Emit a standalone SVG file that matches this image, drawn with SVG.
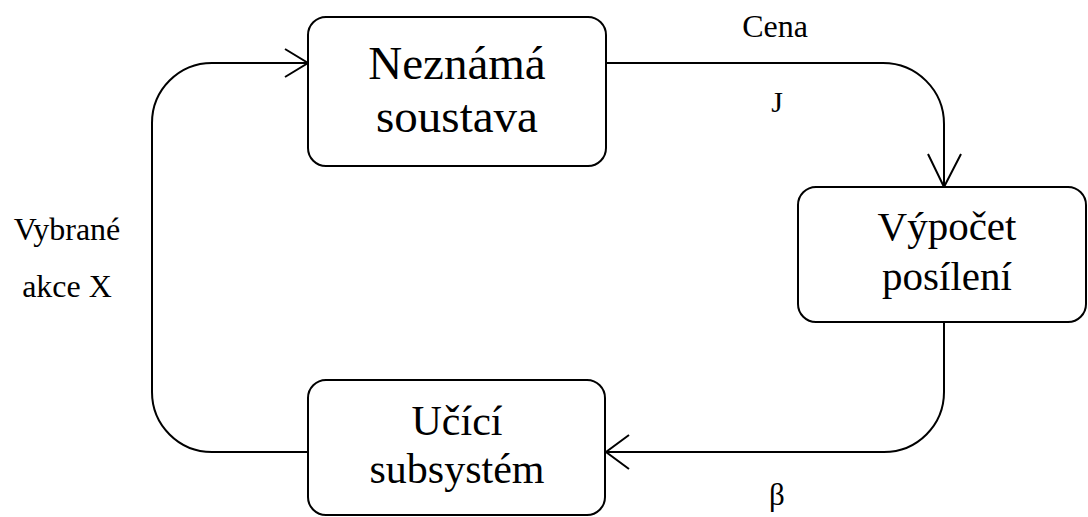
<svg xmlns="http://www.w3.org/2000/svg" width="1088" height="517" viewBox="0 0 1088 517">
<style>
.box{fill:#fff;stroke:#000;stroke-width:2}
.ln{fill:none;stroke:#000;stroke-width:2}
.t{fill:#000;text-anchor:middle;font-family:'Liberation Serif','DejaVu Serif','Noto Serif',serif}
</style>
<rect width="1088" height="517" fill="#fff"/>
<g id="connectors">
<path class="ln" d="M606,63 H883 A61,61 0 0 1 944,124 V187"/>
<polyline class="ln" points="928,154 944,187 961,154"/>
<path class="ln" d="M944,322 V392 A60,60 0 0 1 884,452 H606"/>
<polyline class="ln" points="629,435 606,452 629,469"/>
<path class="ln" d="M308,452 H212 A60,60 0 0 1 152,392 V123 A60,60 0 0 1 212,63 H308"/>
<polyline class="ln" points="285,49 308,63 285,77"/>
<text class="t" x="775" y="37" font-size="32">Cena</text>
<text class="t" x="777" y="112" font-size="30">J</text>
<text class="t" x="777" y="505" font-size="31">β</text>
<text class="t" x="67" y="240" font-size="32">Vybrané</text>
<text class="t" x="67" y="297" font-size="32">akce X</text>
</g>
<g id="node-neznama">
<rect class="box" x="308" y="17" width="298" height="149" rx="18"/>
<text class="t" x="457" y="79" font-size="47">Neznámá</text>
<text class="t" x="457" y="132" font-size="47">soustava</text>
</g>
<g id="node-vypocet">
<rect class="box" x="798" y="187" width="288" height="135" rx="18"/>
<text class="t" x="947" y="240" font-size="41">Výpočet</text>
<text class="t" x="947" y="290" font-size="41">posílení</text>
</g>
<g id="node-ucici">
<rect class="box" x="308" y="380" width="297" height="135" rx="18"/>
<text class="t" x="457" y="435" font-size="42">Učící</text>
<text class="t" x="457" y="483" font-size="42">subsystém</text>
</g>
</svg>
